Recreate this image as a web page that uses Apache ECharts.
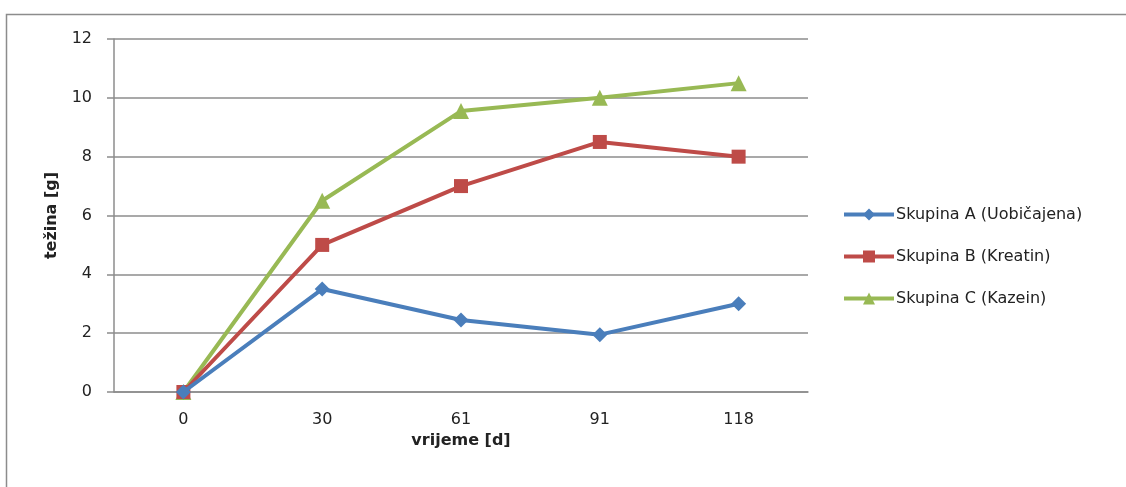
<!DOCTYPE html>
<html><head><meta charset="utf-8">
<script src="https://cdn.jsdelivr.net/npm/echarts@6/dist/echarts.min.js"></script>
<style>html,body{margin:0;padding:0;background:#fff;overflow:hidden}
#c{width:1126px;height:487px}</style>
</head><body><div id="c"></div>
<script>
const categories = ['0', '30', '61', '91', '118'];
const seriesNames = ['Skupina A (Uobičajena)', 'Skupina B (Kreatin)', 'Skupina C (Kazein)'];
const groupA = [0, 3.5, 2.45, 1.95, 3.0];
const groupB = [0, 5, 7, 8.5, 8];
const groupC = [0, 6.5, 9.55, 10, 10.5];
const yTicks = [0, 2, 4, 6, 8, 10, 12];

const colors = ['#4A7EBB', '#BE4B48', '#98B954'];
const symbols = ['diamond', 'rect', 'triangle'];
const sizes = [15, 14, 16];
const font = 'DejaVu Sans';
const chart = echarts.init(document.getElementById('c'));
const data = [groupA, groupB, groupC];
chart.setOption({
  animation: false,
  graphic: [{
    type: 'polyline', silent: true,
    shape: {points: [[6.5, 500], [6.5, 14.5], [1140, 14.5]]},
    style: {stroke: '#8c8c8c', lineWidth: 1.5, fill: null}
  }],
  grid: {left: 114, top: 39, width: 694, height: 353, containLabel: false},
  legend: {
    orient: 'vertical', left: 842, top: 205, padding: 0, itemGap: 23, itemWidth: 50, itemHeight: 15,
    lineStyle: {width: 4},
    textStyle: {fontFamily: font, fontSize: 16, lineHeight: 19, color: '#222', padding: [0,0,0,-3]},
    data: seriesNames
  },
  xAxis: {
    type: 'category', data: categories, boundaryGap: true,
    name: 'vrijeme [d]', nameLocation: 'middle', nameGap: 38,
    nameTextStyle: {fontFamily: font, fontSize: 16, fontWeight: 'bold', color: '#222'},
    axisLine: {lineStyle: {color: '#8c8c8c', width: 1.5}},
    axisTick: {show: false},
    axisLabel: {fontFamily: font, fontSize: 16, color: '#222', margin: 20}
  },
  yAxis: {
    type: 'value', min: 0, max: 12, interval: 2,
    name: 'težina [g]', nameLocation: 'middle', nameGap: 54, nameRotate: 90,
    nameTextStyle: {fontFamily: font, fontSize: 16, fontWeight: 'bold', color: '#222'},
    axisLine: {show: true, lineStyle: {color: '#8c8c8c', width: 1.5}},
    axisTick: {show: true, length: 7, lineStyle: {color: '#8c8c8c', width: 1.5}},
    axisLabel: {fontFamily: font, fontSize: 16, color: '#222', margin: 22,
      formatter: v => yTicks.includes(v) ? String(v) : ''},
    splitLine: {lineStyle: {color: '#8c8c8c', width: 1.5}}
  },
  series: seriesNames.map((n, i) => ({
    name: n, type: 'line', data: data[i],
    symbol: symbols[i], symbolSize: sizes[i], showAllSymbol: true,
    itemStyle: {color: colors[i]},
    lineStyle: {color: colors[i], width: 4},
    z: 2 + (2 - i)
  }))
});
</script></body></html>
